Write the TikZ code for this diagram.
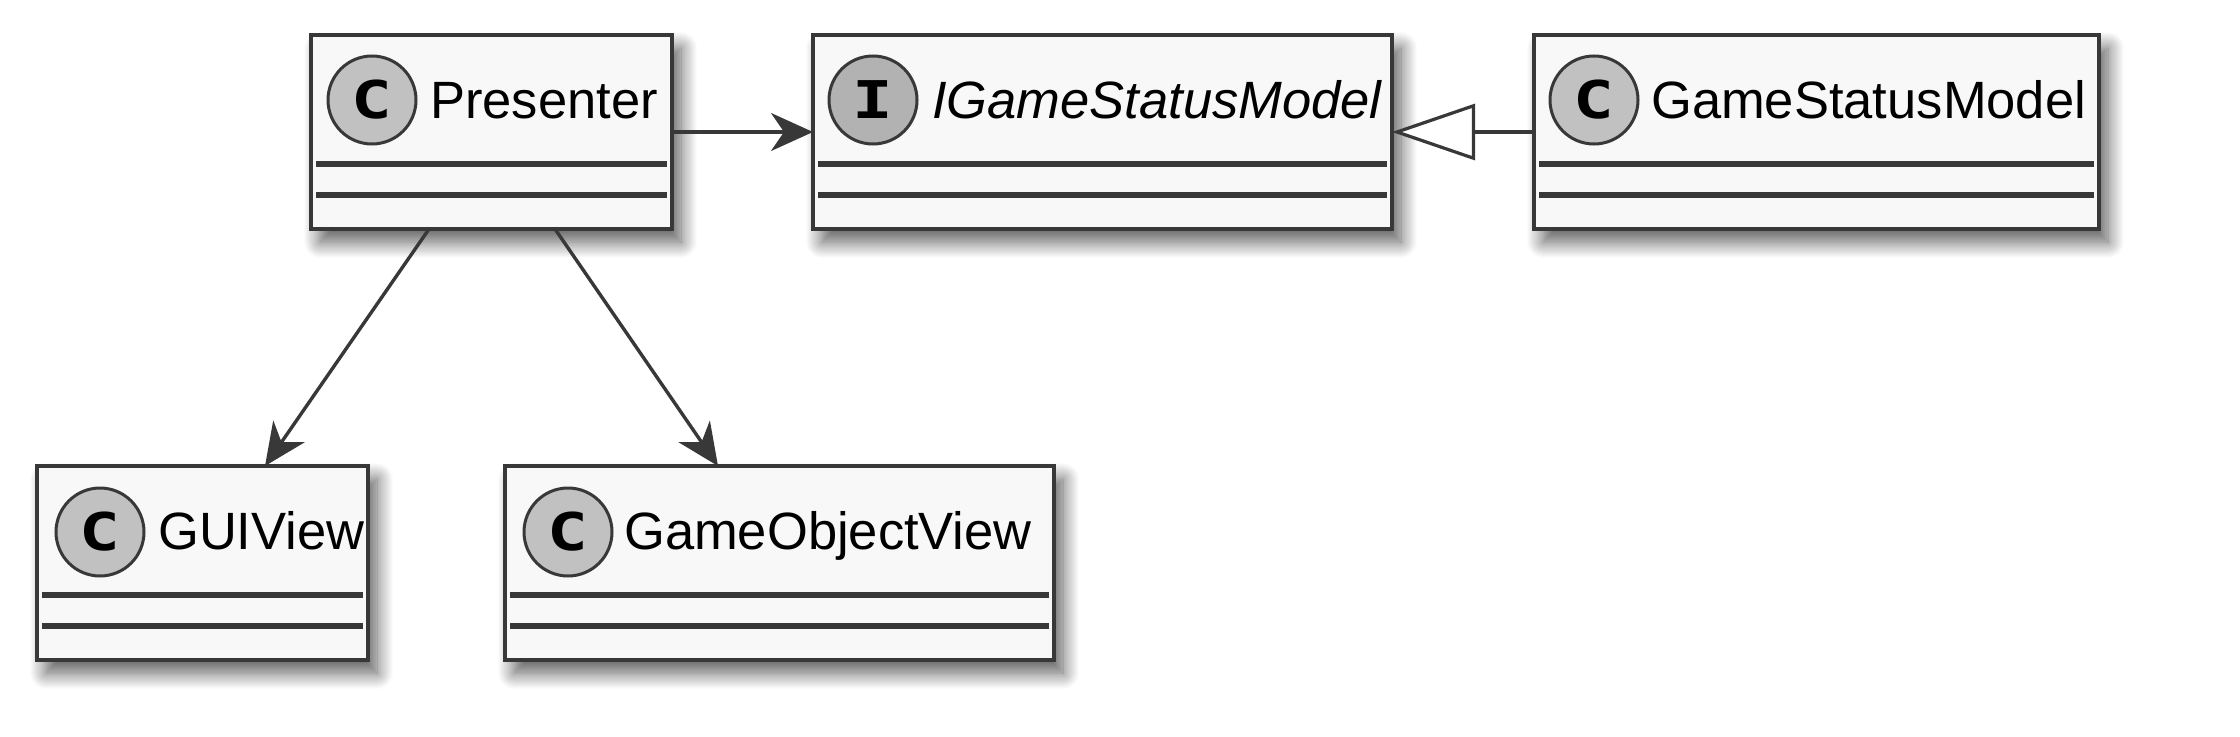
\documentclass[tikz,border=0pt]{standalone}
\usepackage{fontspec}
\usepackage{graphicx}
\setmainfont{Liberation Sans}
\newfontfamily\spotfont{DejaVu Sans Mono}
\usetikzlibrary{arrows.meta,shadows.blur}
\definecolor{bord}{HTML}{383838}
\definecolor{boxfill}{HTML}{F8F8F8}
\definecolor{spotC}{HTML}{C1C1C1}
\definecolor{spotI}{HTML}{B2B2B2}
\newcommand{\spotletter}[1]{\scalebox{1.3}[1]{#1}}
\begin{document}
\begin{tikzpicture}[x=1pt,y=-1pt,
  classbox/.style={draw=bord, line width=4pt, fill=boxfill, anchor=north west,
    inner sep=0pt, outer sep=0pt, minimum height=194pt,
    blur shadow={shadow xshift=9pt, shadow yshift=-13pt, shadow blur radius=16pt, shadow blur steps=16, shadow opacity=65}},
  spot/.style={circle, draw=bord, line width=3pt, fill=spotC, minimum size=88pt, inner sep=0pt,
    font=\spotfont\bfseries\fontsize{52}{52}\selectfont},
  cname/.style={anchor=base west, inner sep=0pt, font=\fontsize{52.5}{60}\selectfont},
  sepline/.style={draw=bord, line width=5.5pt},
  assoc/.style={draw=bord, line width=3.4pt, -{Stealth[length=42pt,width=38pt,inset=13pt]}},
  realize/.style={draw=bord, line width=3.4pt, -{Triangle[length=83pt,width=56pt,fill=white,line width=3.2pt]}}
]
\useasboundingbox (0,0) rectangle (2240,736);

% boxes
\node[classbox, minimum width=361pt] (P) at (311,35) {};
\node[classbox, minimum width=579pt] (I) at (813,35) {};
\node[classbox, minimum width=565pt] (M) at (1534,35) {};
\node[classbox, minimum width=331pt] (G) at (37,466) {};
\node[classbox, minimum width=549pt] (O) at (505,466) {};

% separators
\foreach \b in {P,I,M,G,O}{
  \draw[sepline] ([xshift=5pt,yshift=-129pt]\b.north west) -- ([xshift=-5pt,yshift=-129pt]\b.north east);
  \draw[sepline] ([xshift=5pt,yshift=-160pt]\b.north west) -- ([xshift=-5pt,yshift=-160pt]\b.north east);
}

% spots
\node[spot] (Ps) at ([xshift=61pt,yshift=-65pt]P.north west) {\spotletter{C}};
\node[spot, fill=spotI] (Is) at ([xshift=60pt,yshift=-65pt]I.north west) {\spotletter{I}};
\node[spot] (Ms) at ([xshift=60pt,yshift=-65pt]M.north west) {\spotletter{C}};
\node[spot] (Gs) at ([xshift=63pt,yshift=-66pt]G.north west) {\spotletter{C}};
\node[spot] (Os) at ([xshift=63pt,yshift=-66pt]O.north west) {\spotletter{C}};

% names
\node[cname] (Pn) at ([xshift=119pt,yshift=-83pt]P.north west) {Presenter};
\node[cname] (In) at ([xshift=119pt,yshift=-83pt]I.north west) {\itshape IGameStatusModel};
\node[cname] (Mn) at ([xshift=117pt,yshift=-83pt]M.north west) {GameStatusModel};
\node[cname] (Gn) at ([xshift=121pt,yshift=-83pt]G.north west) {GUIView};
\node[cname] (On) at ([xshift=119pt,yshift=-83pt]O.north west) {GameObjectView};

% connectors
\draw[assoc] (P.east) -- (I.west);
\draw[realize] (M.west) -- (I.east);
\draw[assoc] ([xshift=118pt]P.south west) -- ([xshift=228pt]G.north west);
\draw[assoc] ([xshift=244pt]P.south west) -- ([xshift=213pt]O.north west);
\end{tikzpicture}
\end{document}
